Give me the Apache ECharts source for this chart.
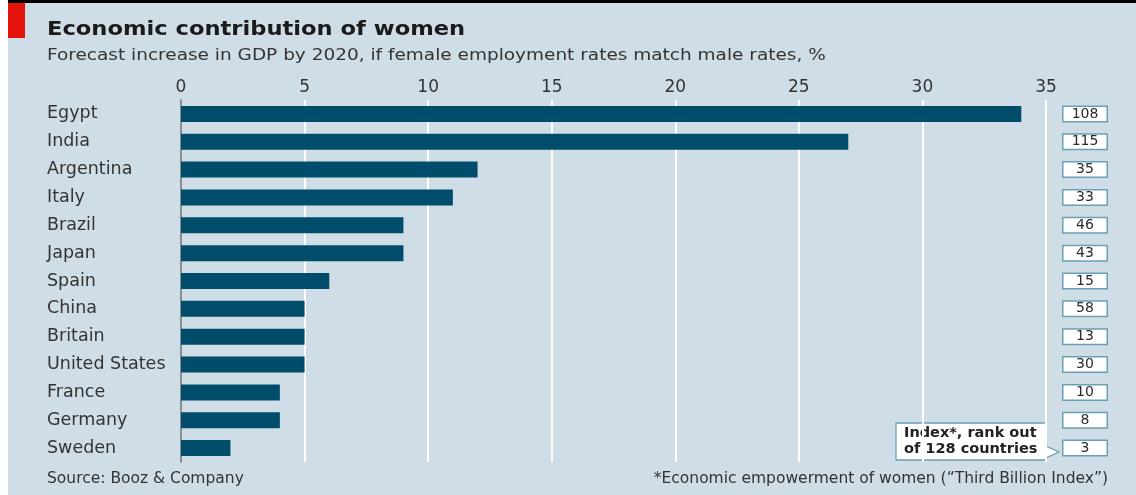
<!DOCTYPE html>
<html><head><meta charset="utf-8">
<script src="https://cdn.jsdelivr.net/npm/echarts@6/dist/echarts.min.js"></script>
<style>html,body{margin:0;padding:0;background:#fff}#c{width:1136px;height:495px}</style>
</head><body><div id="c"></div>
<script>
const countries = ['Egypt','India','Argentina','Italy','Brazil','Japan','Spain','China','Britain','United States','France','Germany','Sweden'];
const gdpIncrease = [34,27,12,11,9,9,6,5,5,5,4,4,2];
const indexRank = [108,115,35,33,46,43,15,58,13,30,10,8,3];
const xTicks = [0,5,10,15,20,25,30,35];

const FONT = '"DejaVu Sans", "Noto Sans", sans-serif';
const chart = echarts.init(document.getElementById('c'));
chart.setOption({
  backgroundColor: '#cfdee6',
  animation: false,
  grid: {left: 181, right: 90, top: 100, bottom: 33},
  xAxis: {
    type: 'value', position: 'top', min: xTicks[0], max: xTicks[xTicks.length-1], interval: 5,
    axisLine: {show: false}, axisTick: {show: false},
    axisLabel: {color: '#333', fontSize: 17, fontFamily: FONT, margin: 4},
    splitLine: {show: true, lineStyle: {color: '#ffffff', width: 2}}
  },
  yAxis: [{
    type: 'category', data: countries, inverse: true,
    axisLine: {show: true, lineStyle: {color: '#666', width: 1.5}},
    axisTick: {show: false},
    axisLabel: {color: '#333', fontSize: 17.5, fontFamily: FONT, align: 'left', margin: 134}
  },{
    type: 'category', data: indexRank, inverse: true, position: 'right',
    axisLine: {show: false}, axisTick: {show: false},
    axisLabel: {color: '#2a2a2a', fontSize: 14, fontFamily: FONT, align: 'center', margin: 39,
      width: 43, backgroundColor: '#fff', borderColor: '#6a9fb5', borderWidth: 1.5,
      padding: [0, 0, 0, 0], lineHeight: 14}
  }],
  series: [{
    type: 'bar', data: gdpIncrease, barWidth: 16,
    itemStyle: {color: '#004d6b'}
  }],
  graphic: [
    {type: 'rect', left: 0, top: 0, shape: {width: 1136, height: 3}, style: {fill: '#000'}},
    {type: 'rect', left: 0, top: 0, shape: {width: 8, height: 495}, style: {fill: '#fff'}},
    {type: 'rect', left: 8, top: 3, shape: {width: 17, height: 35}, style: {fill: '#e3120b'}},
    {type: 'text', x: 47, y: 20, scaleX: 1.13, style: {text: 'Economic contribution of women', fill: '#1a1a1a', font: 'bold 20px ' + FONT}},
    {type: 'text', x: 47, y: 48, scaleX: 1.155, style: {text: 'Forecast increase in GDP by 2020, if female employment rates match male rates, %', fill: '#333', font: '16px ' + FONT}},
    {type: 'text', left: 47, top: 471, style: {text: 'Source: Booz & Company', fill: '#333', font: '15.5px ' + FONT}},
    {type: 'text', right: 28, top: 471, style: {text: '*Economic empowerment of women (\u201cThird Billion Index\u201d)', fill: '#333', font: '15.5px ' + FONT}},
    {type: 'polygon', shape: {points: [[896,423],[1046,423],[1046,446],[1059,452],[1046,458],[1046,460],[896,460]]},
      style: {fill: '#fff', stroke: '#6a9fb5', lineWidth: 1.3}},
    {type: 'text', left: 904, top: 425, style: {text: 'Index*, rank out\nof 128 countries', fill: '#222', font: 'bold 14.5px ' + FONT, lineHeight: 16}}
  ]
});
</script></body></html>
